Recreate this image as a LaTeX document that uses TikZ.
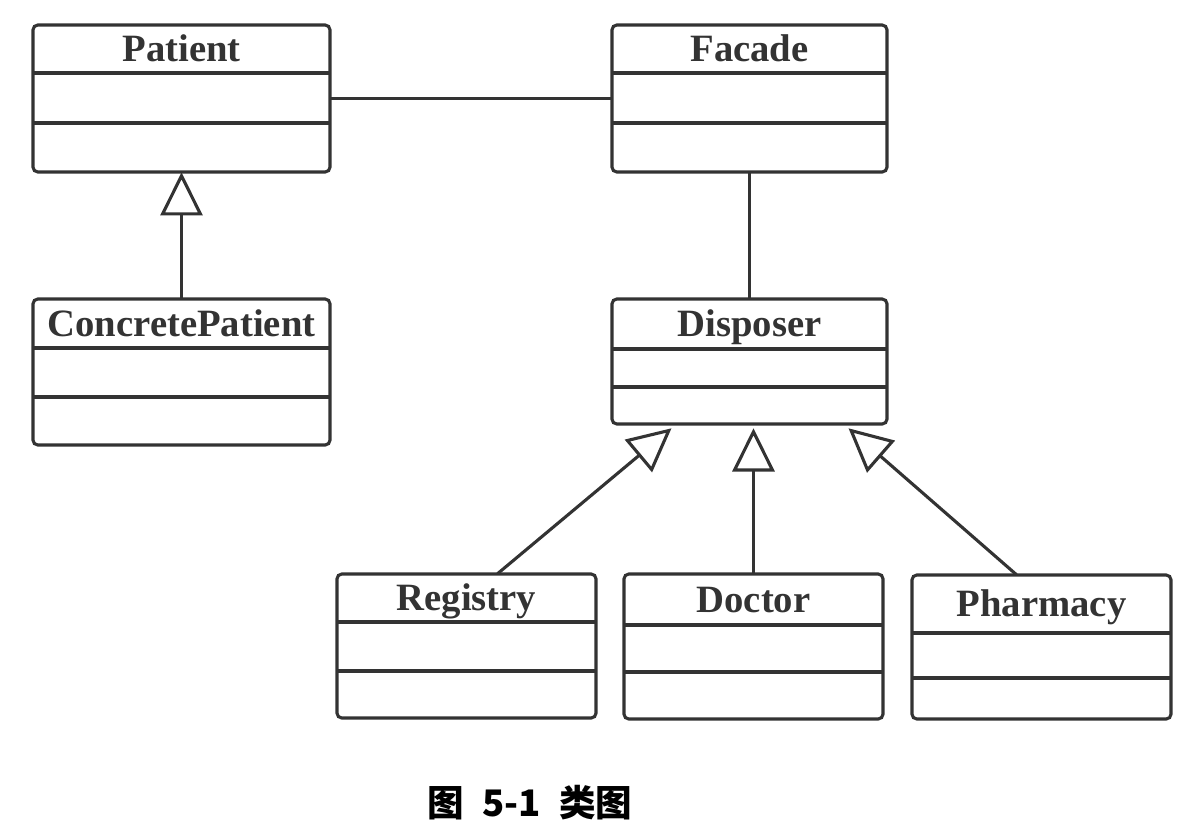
\documentclass[tikz,border=0pt]{standalone}
\usepackage{fontspec}
\setmainfont{Liberation Serif}
\newfontfamily\cjk{Noto Sans CJK SC}
\usetikzlibrary{positioning}
\usetikzlibrary{calc}
\usetikzlibrary{fit}
\usetikzlibrary{arrows.meta}
\definecolor{umlgray}{HTML}{333333}
\tikzset{
  classline/.style={draw=umlgray,line width=2.2pt,rounded corners=0.12cm},
  classname/.style={text=umlgray,font=\fontsize{27.5}{30}\selectfont\bfseries,text height=18.2pt,text depth=0pt},
  assoc/.style={draw=umlgray,line width=2.2pt},
  inherit/.style={assoc,-{Triangle[open,length=1.08cm,width=1.05cm]}},
}
\newcommand\umlclass[8]{%
  \draw[classline] (#2,#3) coordinate (#1-nw) rectangle (#4,#5) coordinate (#1-se);
  \node[fit=(#1-nw)(#1-se),inner sep=0pt] (#1) {};
  \draw[assoc] (#2,#6) -- (#4,#6);
  \draw[assoc] (#2,#7) -- (#4,#7);
  \node[classname] at ({(#2+#4)/2},{(#3+#6)/2}) {#8};
}
\begin{document}
\begin{tikzpicture}[x=0.025cm,y=-0.025cm]
  \useasboundingbox (0,0) rectangle (1200,836);
  \umlclass{patient}{33}{25}{330}{172}{73}{123}{Patient}
  \umlclass{facade}{612}{25}{887}{172}{73}{123}{Facade}
  \umlclass{concretepatient}{33}{299}{330}{445}{348}{397}{ConcretePatient}
  \umlclass{disposer}{612}{299}{887}{424}{349}{387}{Disposer}
  \umlclass{registry}{337}{574}{596}{718}{622}{671}{Registry}
  \umlclass{doctor}{624}{574}{883}{719}{625}{672}{Doctor}
  \umlclass{pharmacy}{912}{575}{1171}{719}{633}{678}{Pharmacy}
  \draw[assoc] (patient) -- (facade);
  \draw[assoc] (facade) -- (disposer);
  \draw[inherit] (concretepatient) -- (patient);
  \draw[inherit] ($(registry.north)+(31,0)$) -- ($(disposer.south)+(-78,4)$);
  \draw[inherit] (doctor.north) -- ($(doctor.north |- disposer.south)+(0,4)$);
  \draw[inherit] ($(pharmacy.north)+(-25,0)$) -- ($(disposer.south)+(99,4)$);
  \node[font=\cjk\bfseries\fontsize{26}{28}\selectfont] (caption) at (530,803) {图\hspace{0.5em}5-1\hspace{0.5em}类图};
\end{tikzpicture}
\end{document}
